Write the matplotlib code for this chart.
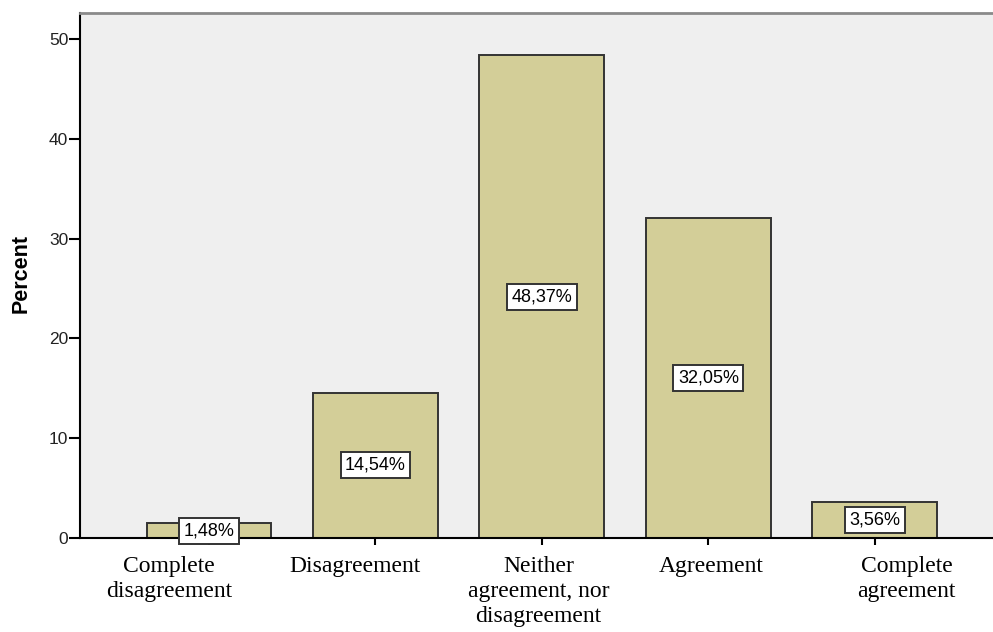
import numpy as np
import matplotlib
matplotlib.use("Agg")
import matplotlib.pyplot as plt

categories = ["Complete\ndisagreement", "Disagreement", "Neither\nagreement, nor\ndisagreement",
              "Agreement", "Complete\nagreement"]
percent = [1.48, 14.54, 48.37, 32.05, 3.56]
value_labels = ["1,48%", "14,54%", "48,37%", "32,05%", "3,56%"]
yticks = [0, 10, 20, 30, 40, 50]

# the category texts in the original are not quite under their bars
label_shift = [-0.24, -0.12, -0.02, 0.02, 0.19]

fig = plt.figure(figsize=(9.93, 6.32), dpi=100)
ax = fig.add_axes([80 / 993, 94 / 632, 913 / 993, 525 / 632])
ax.set_facecolor("#efefef")

x = np.arange(len(categories))
ax.bar(x, percent, width=0.75, color="#d3ce98", edgecolor="#333333", linewidth=1.4, zorder=2)

# percentage boxes in the middle of each bar
for xi, v, lab in zip(x, percent, value_labels):
    ax.text(xi, v / 2, lab, ha="center", va="center", fontsize=13,
            family="Liberation Sans", zorder=3,
            bbox=dict(boxstyle="square,pad=0.25", facecolor="white",
                      edgecolor="#333333", linewidth=1.4))

ax.set_xlim(-0.775, 4.71)
ax.set_ylim(0, 52.6)
ax.set_yticks(yticks)
ax.set_yticklabels([str(t) for t in yticks], family="Liberation Sans", fontsize=12.5, color="#222222")

ax.set_xticks(x)
ax.set_xticklabels([])
ax.set_xticks(x + np.array(label_shift), minor=True)
ax.set_xticklabels(categories, minor=True, family="Liberation Serif", fontsize=17, linespacing=1.25)
ax.tick_params(axis="y", length=8, width=1.5, pad=0.5)
ax.tick_params(axis="x", which="major", length=5, width=1.5)
ax.tick_params(axis="x", which="minor", length=0, pad=13)

ax.set_ylabel("Percent", family="Liberation Sans", fontweight="bold", fontsize=15.5)
ax.yaxis.set_label_coords(-0.053, 0.503)

ax.spines["right"].set_visible(False)
ax.spines["top"].set_color("#8a8a8a")
ax.spines["top"].set_linewidth(2)
ax.spines["left"].set_linewidth(1.5)
ax.spines["bottom"].set_linewidth(1.5)

fig.savefig("out.png", dpi=100)
